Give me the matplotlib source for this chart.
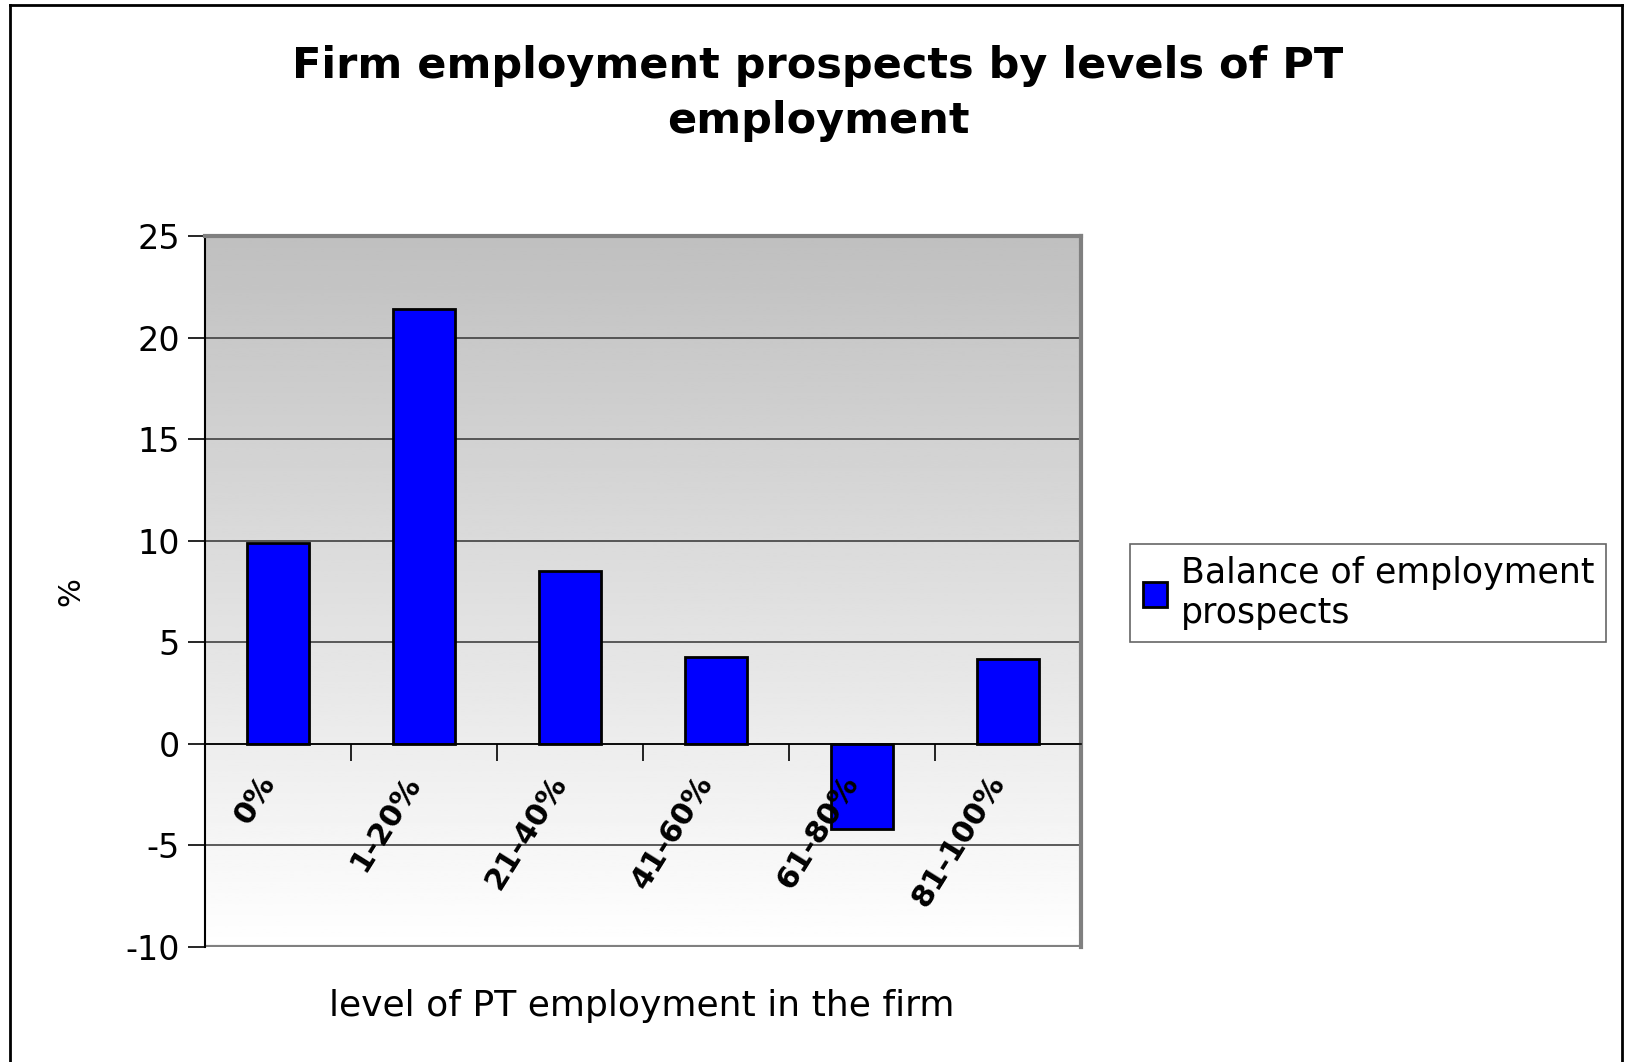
import matplotlib.pyplot as plt
import numpy as np
from matplotlib.lines import Line2D
from matplotlib.transforms import ScaledTranslation

categories = ["0%", "1-20%", "21-40%", "41-60%", "61-80%", "81-100%"]
balance = [9.9, 21.4, 8.5, 4.3, -4.2, 4.2]
series_name = "Balance of employment\nprospects"

plt.rcParams['font.family'] = ['DejaVu Sans']
plt.rcParams['axes.unicode_minus'] = False

fig = plt.figure(figsize=(16.26, 10.62), dpi=100)
ax = fig.add_axes([205 / 1626, 1 - 947 / 1062, 876 / 1626, 711 / 1062])

x = np.arange(len(categories))

# gray-to-white gradient background (gray at top)
grad = np.linspace(0.75, 1.0, 256).reshape(-1, 1)
ax.imshow(grad, extent=[-0.5, len(categories) - 0.5, -10, 25], cmap='gray',
          vmin=0, vmax=1, aspect='auto', zorder=0, origin='upper')
ax.set_xlim(-0.5, len(categories) - 0.5)
ax.set_ylim(-10, 25)

for yv in range(-5, 25, 5):
    ax.axhline(yv, color='#404040', lw=1.2, zorder=1)
ax.axhline(-10, color='#808080', lw=3, zorder=1)

ax.bar(x, balance, width=0.42, color='#0000ff', edgecolor='black', lw=2,
       zorder=2, label=series_name)

ax.set_yticks(range(-10, 30, 5))
ax.tick_params(axis='y', labelsize=24, length=12, width=1.2, pad=6)

ax.spines['bottom'].set_position(('data', 0))
ax.spines['bottom'].set_color('black')
ax.spines['bottom'].set_linewidth(1.2)
ax.spines['left'].set_linewidth(1.5)
for s in ['top', 'right']:
    ax.spines[s].set_color('#808080')
    ax.spines[s].set_linewidth(3)

ax.set_xticks(x)
ax.set_xticklabels(categories, rotation=58, fontsize=22, fontweight='bold',
                   ha='right', va='top', rotation_mode='anchor')
ax.tick_params(axis='x', which='major', length=0, pad=19)
ax.set_xticks(x[:-1] + 0.5, minor=True)
ax.tick_params(axis='x', which='minor', length=12, width=1.2, direction='out')
ax.xaxis.set_zorder(5)
shift = ScaledTranslation(-22 / 100, 0, fig.dpi_scale_trans)
for lab in ax.get_xticklabels():
    lab.set_transform(lab.get_transform() + shift)

ax.set_ylabel('%', fontsize=22)
ax.yaxis.set_label_coords(-0.136, 0.5)

fig.text(642 / 1626, 1 - 1006 / 1062, 'level of PT employment in the firm',
         fontsize=26, ha='center', va='center')

fig.text(818 / 1626, 1 - 66 / 1062, 'Firm employment prospects by levels of PT',
         fontsize=31, fontweight='bold', ha='center', va='center')
fig.text(818 / 1626, 1 - 121 / 1062, 'employment',
         fontsize=31, fontweight='bold', ha='center', va='center')

leg = ax.legend(loc='center left', bbox_to_anchor=(1113 / 1626, 1 - 593 / 1062),
                bbox_transform=fig.transFigure, fontsize=25, frameon=True,
                fancybox=False, edgecolor='#404040', handlelength=0.7,
                handleheight=0.7, handletextpad=0.4, borderpad=0.35,
                labelspacing=0.2)
leg.get_frame().set_linewidth(1.2)

# outer chart border
fig.add_artist(Line2D([10 / 1626, 10 / 1626], [0, 1 - 5 / 1062], color='black', lw=2,
                      transform=fig.transFigure))
fig.add_artist(Line2D([10 / 1626, 1622 / 1626], [1 - 5 / 1062, 1 - 5 / 1062], color='black',
                      lw=2, transform=fig.transFigure))
fig.add_artist(Line2D([1622 / 1626, 1622 / 1626], [0, 1 - 5 / 1062], color='black', lw=2,
                      transform=fig.transFigure))

fig.savefig('out.png', dpi=100)
